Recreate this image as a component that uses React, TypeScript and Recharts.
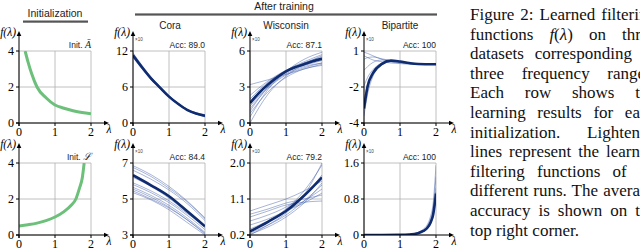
import React from 'react';
import { LineChart, Line, XAxis, YAxis, CartesianGrid } from 'recharts';

// x positions (λ) used by most series
const LAM = [0, 0.25, 0.5, 0.75, 1, 1.25, 1.5, 1.75, 2];
const LAM5 = [0, 0.5, 1, 1.5, 2];

// initialisation filters
const INIT_A_LAM = [0.17, 0.25, 0.35, 0.5, 0.75, 1, 1.25, 1.5, 1.75, 2];
const INIT_A = [4, 3.4, 2.75, 2.0, 1.4, 1.0, 0.82, 0.68, 0.58, 0.52];
const INIT_L_LAM = [0, 0.25, 0.5, 0.75, 1, 1.25, 1.45, 1.58, 1.68, 1.76, 1.81];
const INIT_L = [0.5, 0.57, 0.66, 0.8, 1.0, 1.3, 1.65, 2.0, 2.6, 3.2, 4];

// Cora, init Ā (x10)
const CORA_A_MEAN = [11.3, 9.3, 7.45, 5.9, 4.4, 3.2, 2.2, 1.6, 1.2];
const CORA_A_RUNS = [
  [11.7, 9.6, 7.7, 6.1, 4.6, 3.3, 2.3, 1.6, 1.1],
  [10.9, 9.0, 7.2, 5.7, 4.3, 3.1, 2.2, 1.6, 1.3],
  [11.5, 9.5, 7.6, 6.0, 4.5, 3.3, 2.3, 1.7, 1.3],
  [11.0, 9.1, 7.3, 5.8, 4.3, 3.1, 2.1, 1.5, 1.1],
  [11.4, 9.3, 7.5, 5.9, 4.4, 3.2, 2.2, 1.5, 1.0],
  [11.1, 9.2, 7.4, 5.9, 4.4, 3.2, 2.3, 1.7, 1.4],
];

// Wisconsin, init Ā
const WIS_A_MEAN = [1.66, 2.5, 3.2, 3.8, 4.3, 4.65, 4.9, 5.15, 5.35];
const WIS_A_RUNS = [
  [3.2, 3.6, 4.05, 4.5, 4.9],
  [0.0, 2.4, 3.9, 4.9, 5.6],
  [0.5, 2.8, 4.3, 5.3, 5.9],
  [1.0, 3.0, 4.3, 5.0, 5.4],
  [1.4, 3.0, 4.1, 4.7, 5.0],
  [2.0, 3.4, 4.3, 4.8, 5.2],
  [0.8, 2.6, 3.8, 4.5, 4.8],
  [2.3, 3.5, 4.4, 5.1, 5.7],
  [1.2, 2.9, 4.0, 4.6, 5.0],
  [1.8, 3.2, 4.2, 5.0, 5.5],
];

// Bipartite, init Ā (axis labelled -4, -2, 1 at even spacing)
const BIP_A_LAM = [0, 0.1, 0.25, 0.5, 0.75, 1, 1.25, 1.5, 2];
const BIP_A_MEAN = [-3.2, -1.95, -0.85, -0.07, 0.2, 0.12, 0.0, -0.08, -0.1];
const BIP_A_RUNS = [
  [0.9, 0.8, 0.6, 0.3, 0.1, 0.0, -0.05, -0.1, -0.1],
  [0.3, 0.45, 0.5, 0.35, 0.2, 0.05, -0.05, -0.1, -0.1],
  [-0.6, -0.3, 0.05, 0.25, 0.2, 0.05, -0.05, -0.1, -0.1],
  [0.6, 0.45, 0.25, 0.1, 0.0, -0.05, -0.1, -0.1, -0.1],
  [-1.9, -1.2, -0.55, 0.0, 0.2, 0.1, 0.0, -0.1, -0.1],
  [-3.6, -2.4, -1.1, -0.15, 0.15, 0.12, 0.0, -0.1, -0.1],
  [-2.8, -1.7, -0.7, 0.0, 0.2, 0.1, 0.0, -0.1, -0.1],
];
const BIP_A_LABELS = ['-4', '-2', '1'];

// Cora, init L
const CORA_L_MEAN = [6.32, 5.76, 5.15, 4.33, 3.48];
const CORA_L_RUNS = [
  [6.85, 6.35, 5.7, 4.9, 3.95],
  [6.75, 6.25, 5.6, 4.85, 3.9],
  [6.6, 6.1, 5.5, 4.75, 3.8],
  [5.8, 5.35, 4.8, 4.1, 3.3],
  [5.65, 5.2, 4.65, 3.95, 3.15],
  [5.55, 5.1, 4.55, 3.85, 3.05],
  [5.45, 5.0, 4.5, 3.85, 3.1],
  [5.35, 4.95, 4.4, 3.7, 3.0],
  [6.2, 5.7, 5.05, 4.25, 3.4],
  [5.9, 5.45, 4.9, 4.2, 3.5],
];

// Wisconsin, init L
const WIS_L_MEAN = [0.29, 0.53, 0.8, 1.18, 1.64];
const WIS_L_RUNS = [
  [0.8, 0.95, 1.1, 1.3, 1.55],
  [0.72, 0.85, 1.0, 1.1, 1.2],
  [0.65, 0.8, 0.95, 1.02, 1.05],
  [0.55, 0.7, 0.9, 1.2, 1.7],
  [0.3, 0.55, 0.85, 1.3, 1.95],
  [0.2, 0.45, 0.75, 1.2, 2.0],
  [0.25, 0.45, 0.7, 1.05, 1.45],
  [0.35, 0.55, 0.8, 1.05, 1.35],
  [0.45, 0.6, 0.8, 1.0, 1.25],
  [0.22, 0.4, 0.65, 1.0, 1.5],
];

// Bipartite, init L
const BIP_L_LAM = [0, 0.5, 1, 1.25, 1.5, 1.65, 1.75, 1.85, 1.92, 2];
const BIP_L_MEAN = [0, 0, 0.002, 0.01, 0.04, 0.09, 0.15, 0.28, 0.45, 0.92];
const BIP_L_RUNS = [
  [0, 0, 0.003, 0.015, 0.06, 0.13, 0.22, 0.42, 0.7, 1.55],
  [0, 0, 0.002, 0.012, 0.05, 0.11, 0.19, 0.36, 0.6, 1.3],
  [0, 0, 0.002, 0.01, 0.04, 0.09, 0.16, 0.3, 0.5, 1.05],
  [0, 0, 0.001, 0.008, 0.035, 0.08, 0.14, 0.25, 0.42, 0.85],
  [0, 0, 0.001, 0.009, 0.04, 0.085, 0.15, 0.27, 0.46, 0.95],
];

const CAPTION = [
  'Figure 2: Learned filtering',
  'functions f(λ) on three',
  'datasets corresponding to',
  'three frequency ranges.',
  'Each row shows the',
  'learning results for each',
  'initialization. Lightened',
  'lines represent the learned',
  'filtering functions of 10',
  'different runs. The average',
  'accuracy is shown on the',
  'top right corner.',
];

// layout
const ROW_TOP = [51, 163];
const COL_LEFT = [19, 133, 250, 364];
const PW = 72;
const PH = 72;
const AXW = 26;
const AXH = 15;
const MT = 10;
const MR = 8;

const GREEN = '#6cc07a';
const NAVY = '#0f2c70';
const RUN = '#3d5ca8';
const SERIF = '"Liberation Serif", "DejaVu Serif", serif';
const SANS = '"Liberation Sans", Arial, sans-serif';

const pts = (xs: number[], ys: number[], f = (v: number) => v) =>
  xs.map((x, i) => ({ x, y: f(ys[i]) }));

// even-spaced axis: -4 -> 0, -2 -> 1, 1 -> 2
const bipPos = (v: number) => (v >= -2 ? 1 + (v + 2) / 3 : (v + 4) / 2);

type PanelDef = {
  row: number;
  col: number;
  domain: number[];
  ticks: number[];
  fmt?: (v: number, i: number) => string;
  green?: { x: number; y: number }[];
  runs?: { x: number; y: number }[][];
  mean?: { x: number; y: number }[];
  label: string;
  scaled: boolean;
};

const PANELS: PanelDef[] = [
  { row: 0, col: 0, domain: [0, 4], ticks: [0, 2, 4], green: pts(INIT_A_LAM, INIT_A), label: 'A', scaled: false },
  {
    row: 0, col: 1, domain: [0, 12], ticks: [0, 6, 12],
    runs: CORA_A_RUNS.map((r) => pts(LAM, r)), mean: pts(LAM, CORA_A_MEAN), label: 'Acc: 89.0', scaled: true,
  },
  {
    row: 0, col: 2, domain: [0, 6], ticks: [0, 3, 6],
    runs: WIS_A_RUNS.map((r) => pts(LAM5, r)), mean: pts(LAM, WIS_A_MEAN), label: 'Acc: 87.1', scaled: true,
  },
  {
    row: 0, col: 3, domain: [0, 2], ticks: [0, 1, 2], fmt: (_v, i) => BIP_A_LABELS[i],
    runs: BIP_A_RUNS.map((r) => pts(BIP_A_LAM, r, bipPos)), mean: pts(BIP_A_LAM, BIP_A_MEAN, bipPos),
    label: 'Acc: 100', scaled: true,
  },
  { row: 1, col: 0, domain: [0, 4], ticks: [0, 2, 4], green: pts(INIT_L_LAM, INIT_L), label: 'L', scaled: false },
  {
    row: 1, col: 1, domain: [3, 7], ticks: [3, 5, 7],
    runs: CORA_L_RUNS.map((r) => pts(LAM5, r)), mean: pts(LAM5, CORA_L_MEAN), label: 'Acc: 84.4', scaled: true,
  },
  {
    row: 1, col: 2, domain: [0.2, 2.0], ticks: [0.2, 1.1, 2.0], fmt: (v) => v.toFixed(1),
    runs: WIS_L_RUNS.map((r) => pts(LAM5, r)), mean: pts(LAM5, WIS_L_MEAN), label: 'Acc: 79.2', scaled: true,
  },
  {
    row: 1, col: 3, domain: [0, 1.6], ticks: [0, 0.8, 1.6], fmt: (v) => (v === 0 ? '0' : v.toFixed(1)),
    runs: BIP_L_RUNS.map((r) => pts(BIP_L_LAM, r)), mean: pts(BIP_L_LAM, BIP_L_MEAN), label: 'Acc: 100', scaled: true,
  },
];

const tickStyle = { fontSize: 12, fontFamily: SERIF, fill: '#000' };

function Panel({ p }: { p: PanelDef }) {
  const left = COL_LEFT[p.col];
  const top = ROW_TOP[p.row];
  return (
    <div style={{ position: 'absolute', left: left - AXW, top: top - MT }}>
      <LineChart width={AXW + PW + MR} height={MT + PH + AXH} margin={{ top: MT, right: MR, bottom: 0, left: 0 }}>
        <CartesianGrid stroke="#b0b0b0" strokeWidth={0.8} />
        <XAxis
          type="number" dataKey="x" domain={[0, 2]} ticks={[0, 1, 2]} interval={0} allowDataOverflow
          height={AXH} tickSize={3} tickMargin={1} stroke="#000" tick={tickStyle}
        />
        <YAxis
          type="number" dataKey="y" domain={p.domain} ticks={p.ticks} interval={0} allowDataOverflow
          width={AXW} tickSize={3} tickMargin={2} stroke="#000" tick={tickStyle}
          tickFormatter={p.fmt ? (v: number, i: number) => p.fmt!(v, i) : (v: number) => String(v)}
        />
        {p.green && (
          <Line data={p.green} dataKey="y" type="monotone" stroke={GREEN} strokeWidth={3} dot={false} isAnimationActive={false} />
        )}
        {p.runs && p.runs.map((r, i) => (
          <Line key={i} data={r} dataKey="y" type="monotone" stroke={RUN} strokeOpacity={0.45} strokeWidth={1}
            dot={false} isAnimationActive={false} />
        ))}
        {p.mean && (
          <Line data={p.mean} dataKey="y" type="monotone" stroke={NAVY} strokeWidth={2.6} dot={false} isAnimationActive={false} />
        )}
      </LineChart>
    </div>
  );
}

function Decor() {
  return (
    <svg width={640} height={250} style={{ position: 'absolute', left: 0, top: 0, pointerEvents: 'none' }}>
      <text x={55} y={16.5} textAnchor="middle" fontFamily={SANS} fontSize={10.5} fill="#222">Initialization</text>
      <rect x={23} y={20.5} width={65} height={2.2} fill="#555" />
      <text x={284} y={9.5} textAnchor="middle" fontFamily={SANS} fontSize={10.5} fill="#222">After training</text>
      <rect x={135} y={13.4} width={302} height={2.2} fill="#555" />
      <text x={170} y={29} textAnchor="middle" fontFamily={SANS} fontSize={10} fill="#222">Cora</text>
      <text x={286} y={29} textAnchor="middle" fontFamily={SANS} fontSize={10} fill="#222">Wisconsin</text>
      <text x={400} y={29} textAnchor="middle" fontFamily={SANS} fontSize={10} fill="#222">Bipartite</text>
      {PANELS.map((p, i) => {
        const L = COL_LEFT[p.col];
        const T = ROW_TOP[p.row];
        const R = L + PW;
        const B = T + PH;
        return (
          <g key={i}>
            <line x1={L - 3} y1={B} x2={L} y2={B} stroke="#000" />
            <line x1={R} y1={B} x2={R + 15} y2={B} stroke="#000" />
            <polygon points={`${R + 18},${B} ${R + 13},${B - 2.3} ${R + 13},${B + 2.3}`} fill="#000" />
            <line x1={L} y1={B} x2={L} y2={B + 3} stroke="#000" />
            <line x1={L} y1={T} x2={L} y2={T - 17} stroke="#000" />
            <polygon points={`${L},${T - 20} ${L - 2.3},${T - 15} ${L + 2.3},${T - 15}`} fill="#000" />
            <text x={L - 3} y={T - 15} textAnchor="end" fontFamily={SERIF} fontStyle="italic" fontSize={11.5}>
              f(λ)
            </text>
            <text x={R + 18} y={B + 10} textAnchor="middle" fontFamily={SERIF} fontStyle="italic" fontSize={11.5}>
              λ
            </text>
            {p.scaled && (
              <text x={L + 2} y={T - 10} fontFamily={SANS} fontSize={4.5} fill="#444">×10</text>
            )}
            {p.scaled ? (
              <text x={R} y={T - 3} textAnchor="end" fontFamily={SANS} fontSize={8.5} fill="#222">{p.label}</text>
            ) : (
              <text x={R} y={T - 3} textAnchor="end" fontSize={8.5} fill="#222">
                <tspan fontFamily={SANS}>Init. </tspan>
                <tspan fontFamily={SERIF} fontStyle="italic" fontSize={10}>{p.label === 'A' ? 'Ā' : 'ℒ'}</tspan>
              </text>
            )}
          </g>
        );
      })}
    </svg>
  );
}

export default function App() {
  return (
    <div style={{ position: 'absolute', left: 0, top: 0, width: 640, height: 250, overflow: 'hidden', background: '#fff' }}>
      {PANELS.map((p, i) => <Panel key={i} p={p} />)}
      <Decor />
      <div style={{ position: 'absolute', left: 470, top: 5, width: 186, fontFamily: SERIF, fontSize: 17, lineHeight: '19.6px', color: '#111' }}>
        {CAPTION.map((t, i) => (
          <div
            key={i}
            style={{
              textAlign: 'justify',
              textAlignLast: i === CAPTION.length - 1 ? 'left' : 'justify',
              whiteSpace: 'nowrap',
            }}
          >
            {t.includes('f(λ)') ? (
              <>functions <i>f</i>(<i>λ</i>) on three</>
            ) : t}
          </div>
        ))}
      </div>
    </div>
  );
}
